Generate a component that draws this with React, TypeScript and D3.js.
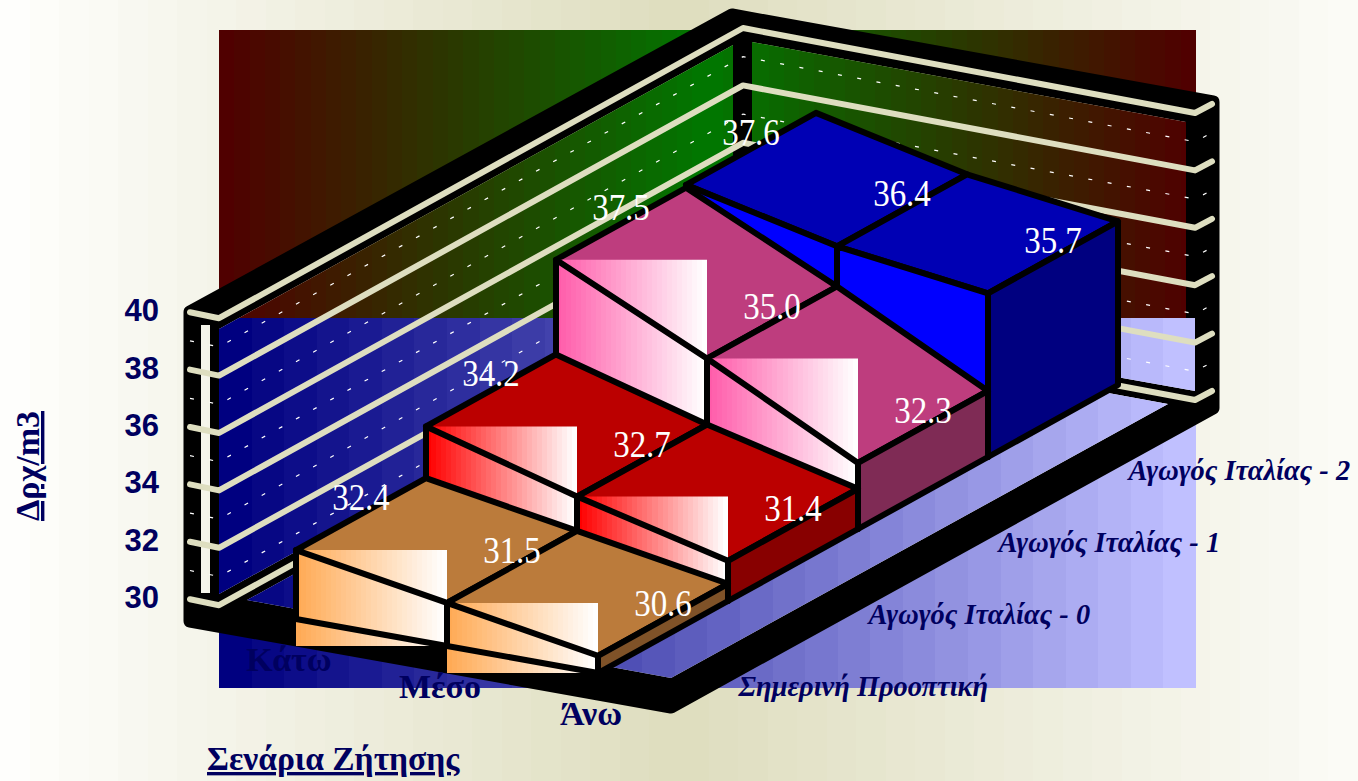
import React from "react";
import * as d3 from "d3";

// ---- data ----
const categories = ["Κάτω", "Μέσο", "Άνω"];
const scenarios = ["Σημερινή Προοπτική", "Αγωγός Ιταλίας - 0", "Αγωγός Ιταλίας - 1", "Αγωγός Ιταλίας - 2"];
const current = [32.4, 31.5, 30.6];
const pipe0 = [34.2, 32.7, 31.4];
const pipe1 = [37.5, 35.0, 32.3];
const pipe2 = [37.6, 36.4, 35.7];
const seriesValues = [current, pipe0, pipe1, pipe2];
const yTicks = [30, 32, 34, 36, 38, 40];
const gridMinor = [31, 33, 35, 37, 39];
const yTitle = "Δρχ/m3";
const xTitle = "Σενάρια Ζήτησης";

const topColors = ["#BB7B3B", "#BB0000", "#BE3D7E", "#0000B4"];
const faceStart = ["#FFAA55", "#FF0000", "#FF5CAA", "#0000FF"];
const faceEnd = ["#FFFFFF", "#FFFFFF", "#FFFFFF", "#0000FF"];
const sideColors = ["#7F5228", "#880000", "#7F2B55", "#000080"];

const NAVY = "#00005F";
const CREAM = "#DEDEC0";
const SERIF = "'Liberation Serif', 'Times New Roman', serif";
const SANS = "'Liberation Sans', Arial, sans-serif";

// ---- projection ----
const catX = d3.scaleLinear().domain([0, 1]).range([296, 447]);
const catY = d3.scaleLinear().domain([0, 1]).range([619, 646]);
const depX = d3.scaleLinear().domain([0, 1]).range([0, 130]);
const depY = d3.scaleLinear().domain([0, 1]).range([0, -72]);
const valY = d3.scaleLinear().domain([30, 40]).range([0, -287]);
const bar = (c: number, d: number, v: number): [number, number] => [catX(c) + depX(d), catY(c) + depY(d) + valY(v)];

const wallDepX = d3.scaleLinear().domain([0, 1]).range([219, 743]);
const wallDepY = d3.scaleLinear().domain([0, 1]).range([605.2, 315]);
const wallWidX = d3.scaleLinear().domain([0, 1]).range([0, 452]);
const wallWidY = d3.scaleLinear().domain([0, 1]).range([0, 85]);
const wallLine = (v: number): [number, number][] => {
  const o = valY(v);
  const a: [number, number] = [wallDepX(0), wallDepY(0) + o];
  const b: [number, number] = [wallDepX(1), wallDepY(1) + o];
  const c: [number, number] = [wallDepX(1) + wallWidX(1), wallDepY(1) + wallWidY(1) + o];
  return [[a[0] - 29, a[1] - 6], a, b, c, [c[0] + 17, c[1] - 9]];
};

const line = d3.line();
const poly = (pts: [number, number][]) => line(pts) + "Z";

// ---- frame geometry ----
const frameOuter: [number, number][] = [[190, 312], [732, 15], [1213, 102], [1213, 408], [671, 707], [190, 621]];
const holeLeftWall: [number, number][] = [[219, 329], [733, 45], [733, 310], [219, 594]];
const holeBackWall: [number, number][] = [[752, 42], [1186, 122], [1186, 318], [1195, 318], [1195, 391], [752, 312]];
const holeFloor: [number, number][] = [[247, 600], [671, 678], [1168, 404], [743, 326]];
const holeSlit: [number, number][] = [[201, 325], [210, 325], [210, 593], [201, 593]];

function stops(colors: string[], n: number) {
  const ip = d3.piecewise(d3.interpolateRgb, colors);
  const out: React.ReactNode[] = [];
  for (let i = 0; i < n; i++) {
    const c = ip(i / (n - 1));
    out.push(<stop key={i + "a"} offset={i / n} stopColor={c} />);
    out.push(<stop key={i + "b"} offset={(i + 1) / n} stopColor={c} />);
  }
  return out;
}

function Backdrop() {
  return (
    <g>
      <rect x={0} y={0} width={1358} height={781} fill="url(#pageBg)" />
      <rect x={219} y={30} width={977} height={288} fill="url(#upperBg)" />
      <rect x={219} y={318} width={977} height={370} fill="url(#lowerBg)" />
    </g>
  );
}

function Row({ s }: { s: number }) {
  const vals = seriesValues[s];
  const cells = d3.range(vals.length - 1);
  const last = vals.length - 1;
  const solid = faceStart[s] === faceEnd[s];
  return (
    <g stroke="#000" strokeWidth={6} strokeLinejoin="round">
      {cells.map((i) => {
        const a = bar(i, s, vals[i]);
        const b = bar(i + 1, s, vals[i + 1]);
        const b2 = bar(i + 1, s + 1, vals[i + 1]);
        const a2 = bar(i, s + 1, vals[i]);
        return <path key={i} d={poly([a, b, b2, a2])} fill={topColors[s]} />;
      })}
      {!solid &&
        cells.map((i) => {
          const a = bar(i, s, vals[i]);
          const b = bar(i + 1, s, vals[i + 1]);
          const bb = bar(i + 1, s, 30);
          const ab = bar(i, s, 30);
          const gid = `url(#faceU${s}c${i})`;
          return (
            <g key={i} stroke="none">
              <path d={poly([a, [b[0], a[1]], b])} fill={gid} />
              <path d={poly([ab, bb, [ab[0], bb[1]]])} fill={gid} />
            </g>
          );
        })}
      {cells.map((i) => {
        const a = bar(i, s, vals[i]);
        const b = bar(i + 1, s, vals[i + 1]);
        const bb = bar(i + 1, s, 30);
        const ab = bar(i, s, 30);
        return <path key={i} d={poly([a, b, bb, ab])} fill={`url(#faceU${s}c${i})`} />;
      })}
      <path
        d={poly([bar(last, s, vals[last]), bar(last, s + 1, vals[last]), bar(last, s + 1, 30), bar(last, s, 30)])}
        fill={sideColors[s]}
      />
    </g>
  );
}

export default function App() {
  const rows = d3.range(seriesValues.length);
  return (
    <svg width={1358} height={781} style={{ position: "absolute", left: 0, top: 0, display: "block" }}>
      <defs>
        <linearGradient id="pageBg" gradientUnits="userSpaceOnUse" x1={0} x2={1358} y1={0} y2={0}>
          {stops(["#FEFEFC", "#DEDDBE", "#FBFBF6"], 46)}
        </linearGradient>
        <linearGradient id="upperBg" gradientUnits="objectBoundingBox">
          {stops(["#500000", "#007800", "#500000"], 64)}
        </linearGradient>
        <linearGradient id="lowerBg" gradientUnits="objectBoundingBox">
          {stops(["#000080", "#C0C0FF"], 30)}
        </linearGradient>
        {rows.map((s) =>
          d3.range(seriesValues[s].length - 1).map((i) => (
            <linearGradient
              key={s + "-" + i}
              id={`faceU${s}c${i}`}
              gradientUnits="userSpaceOnUse"
              x1={bar(i, s, 30)[0]}
              x2={bar(i + 1, s, 30)[0]}
              y1={0}
              y2={0}
            >
              {stops([faceStart[s], faceEnd[s]], 30)}
            </linearGradient>
          ))
        )}
        <clipPath id="holes">
          {[holeLeftWall, holeBackWall, holeFloor, holeSlit].map((h, i) => (
            <path key={i} d={poly(h)} />
          ))}
        </clipPath>
      </defs>

      <Backdrop />
      <path d={poly(frameOuter)} fill="#000" stroke="#000" strokeWidth={13} strokeLinejoin="round" />
      <g clipPath="url(#holes)">
        <Backdrop />
      </g>

      {gridMinor.map((v) => (
        <path key={v} d={line(wallLine(v))!} fill="none" stroke="#FFFFFF" strokeWidth={1.2} strokeDasharray="4 15.6" />
      ))}
      {yTicks.map((v) => (
        <path
          key={v}
          d={line(wallLine(v))!}
          fill="none"
          stroke={CREAM}
          strokeWidth={6}
          strokeLinecap="round"
          strokeLinejoin="round"
        />
      ))}

      {rows
        .slice()
        .reverse()
        .map((s) => (
          <Row key={s} s={s} />
        ))}

      {rows.map((s) =>
        seriesValues[s].map((v, i) => {
          const [x, y] = bar(i, s + 0.5, v);
          return (
            <text
              key={s + "-" + i}
              transform={`translate(${x},${y - 4}) scale(1,1.12)`}
              fontFamily={SERIF}
              fontSize={33}
              fill="#FFFFFF"
              textAnchor="middle"
            >
              {v.toFixed(1)}
            </text>
          );
        })
      )}

      {yTicks.map((v) => (
        <text
          key={v}
          x={159}
          y={wallLine(v)[0][1] + 9}
          fontFamily={SANS}
          fontWeight="bold"
          fontSize={31}
          fill={NAVY}
          textAnchor="end"
        >
          {v}
        </text>
      ))}
      <text
        transform="translate(39,466) rotate(-90)"
        fontFamily={SERIF}
        fontWeight="bold"
        fontSize={34}
        fill={NAVY}
        textAnchor="middle"
        textDecoration="underline"
      >
        {yTitle}
      </text>

      {categories.map((c, i) => {
        const [x, y] = bar(i, 0, 30);
        return (
          <text
            key={c}
            x={x - 7}
            y={y + 52}
            fontFamily={SERIF}
            fontWeight="bold"
            fontSize={34}
            fill={NAVY}
            textAnchor="middle"
          >
            {c}
          </text>
        );
      })}
      <text x={207} y={770} fontFamily={SERIF} fontWeight="bold" fontSize={33.5} fill={NAVY} textDecoration="underline">
        {xTitle}
      </text>

      {scenarios.map((c, i) => {
        const [x, y] = bar(2.5, i + 0.5, 30);
        return (
          <text
            key={c}
            x={x}
            y={y + 45}
            fontFamily={SERIF}
            fontWeight="bold"
            fontStyle="italic"
            fontSize={28.4}
            fill={NAVY}
          >
            {c}
          </text>
        );
      })}
    </svg>
  );
}
